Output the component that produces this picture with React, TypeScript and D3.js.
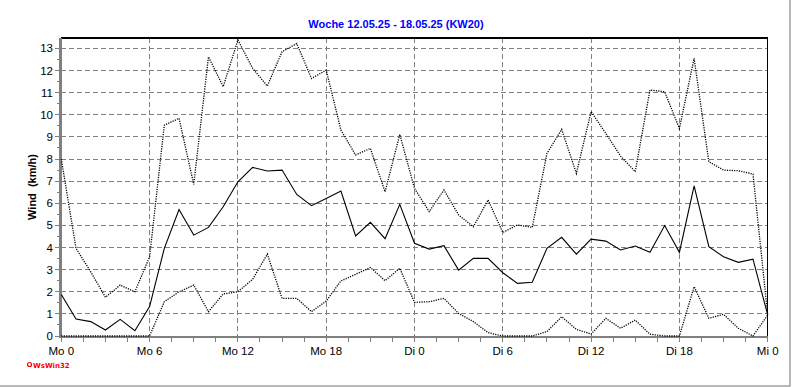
import React from 'react';
import * as d3 from 'd3';

// hourly wind values, Mo 0 .. Mi 0 (49 points)
const maxWind = [
  8.0, 3.96, 2.9, 1.75, 2.3, 2.0, 3.58, 9.53, 9.84, 6.85, 12.62, 11.27, 13.38,
  12.1, 11.3, 12.85, 13.22, 11.64, 12.02, 9.31, 8.18, 8.48, 6.52, 9.11, 6.67,
  5.62, 6.6, 5.47, 4.94, 6.15, 4.68, 5.02, 4.91, 8.25, 9.34, 7.35, 10.14,
  9.16, 8.13, 7.43, 11.12, 11.04, 9.38, 12.55, 7.88, 7.5, 7.47, 7.32, 0.95
];
const meanWind = [
  1.88, 0.77, 0.65, 0.27, 0.75, 0.24, 1.33, 3.96, 5.72, 4.56, 4.91, 5.84, 6.97,
  7.62, 7.46, 7.5, 6.4, 5.89, 6.22, 6.55, 4.52, 5.14, 4.4, 5.95, 4.19,
  3.93, 4.08, 2.98, 3.51, 3.51, 2.86, 2.38, 2.43, 3.96, 4.46, 3.7, 4.38,
  4.29, 3.89, 4.07, 3.78, 4.99, 3.78, 6.79, 4.04, 3.58, 3.33, 3.47, 0.95
];
const minWind = [
  0, 0, 0, 0, 0, 0, 0, 1.55, 2.0, 2.3, 1.1, 1.9, 2.0,
  2.56, 3.7, 1.7, 1.7, 1.1, 1.58, 2.49, 2.79, 3.1, 2.5, 3.06, 1.52,
  1.55, 1.7, 1.02, 0.65, 0.15, 0, 0, 0, 0.2, 0.87, 0.3, 0.09,
  0.8, 0.35, 0.72, 0.08, 0, 0, 2.23, 0.8, 0.98, 0.35, 0, 0.95
];
const xTickHours = [0, 6, 12, 18, 24, 30, 36, 42, 48];
const xTickLabels = ['Mo 0', 'Mo 6', 'Mo 12', 'Mo 18', 'Di 0', 'Di 6', 'Di 12', 'Di 18', 'Mi 0'];
const yTicks = [0, 1, 2, 3, 4, 5, 6, 7, 8, 9, 10, 11, 12, 13];

const title = 'Woche 12.05.25 - 18.05.25 (KW20)';
const yTitle = 'Wind\u00a0\u00a0(km/h)';

const W = 792, H = 387;
const left = 61.3, right = 767.7, top = 38, bottom = 336;
const font = '"Liberation Sans", Arial, sans-serif';

export default function App() {
  const x = d3.scaleLinear().domain([0, 48]).range([left, right]);
  const y = d3.scaleLinear().domain([0, 13.47]).range([bottom, top]);

  const line = d3.line<number>()
    .x((d, i) => x(i))
    .y(d => y(d));

  const minorX = d3.range(0, 48.01, 1.5);
  const minorY = d3.range(0, 13.01, 0.5);

  return (
    <svg width={W} height={H} style={{ position: 'absolute', left: 0, top: 0, background: '#fff' }}>
      <rect x={-1} y={-1} width={791} height={387} fill="#fff" stroke="#a0a0a0" strokeWidth={1.5} />

      <text x={396} y={28} textAnchor="middle" fontFamily={font} fontSize={11} fontWeight="bold" fill="#0000ff">
        {title}
      </text>

      {/* grid */}
      <g stroke="#808080" strokeWidth={1} strokeDasharray="5,3" shapeRendering="crispEdges">
        {yTicks.filter(t => t > 0).map(t => (
          <line key={'gy' + t} x1={left} x2={right} y1={y(t)} y2={y(t)} />
        ))}
        {xTickHours.filter(h => h > 0 && h < 48).map(h => (
          <line key={'gx' + h} x1={x(h)} x2={x(h)} y1={top} y2={bottom} />
        ))}
      </g>

      {/* frame top/right */}
      <g stroke="#000" strokeWidth={1.5} shapeRendering="crispEdges">
        <line x1={left} x2={right} y1={top} y2={top} />
        <line x1={right} x2={right} y1={top} y2={bottom} />
      </g>

      {/* axes */}
      <g stroke="#808080" shapeRendering="crispEdges">
        <line x1={left - 1} x2={left - 1} y1={top} y2={bottom + 2} strokeWidth={3} />
        <line x1={left - 2} x2={right} y1={bottom + 1} y2={bottom + 1} strokeWidth={2.5} />
        {minorY.map(t => (
          <line key={'my' + t} x1={Number.isInteger(t) ? left - 6 : left - 4} x2={left - 1} y1={y(t)} y2={y(t)} strokeWidth={1} />
        ))}
        {minorX.map(h => (
          <line key={'mx' + h} x1={x(h)} x2={x(h)} y1={bottom + 1} y2={bottom + 6} strokeWidth={1} />
        ))}
      </g>

      <g fontFamily={font} fontSize={11.5} fill="#000">
        {yTicks.map(t => (
          <text key={'ty' + t} x={53} y={y(t)} dy="0.35em" textAnchor="end">{t}</text>
        ))}
        {xTickHours.map((h, i) => (
          <text key={'tx' + h} x={x(h)} y={355} textAnchor="middle">{xTickLabels[i]}</text>
        ))}
      </g>

      <text transform={`translate(36,187) rotate(-90)`} textAnchor="middle" fontFamily={font} fontSize={11} fontWeight="bold">
        {yTitle}
      </text>

      {/* series */}
      <g fill="none" stroke="#000">
        <path d={line(maxWind) || ''} strokeDasharray="1.2,1.2" strokeWidth={1.3} />
        <path d={line(minWind) || ''} strokeDasharray="1.2,1.2" strokeWidth={1.3} />
        <path d={line(meanWind) || ''} strokeWidth={1.1} />
      </g>

      <g fill="#ff0000">
        <circle cx={29.5} cy={364.5} r={2} fill="none" stroke="#ff0000" strokeWidth={1.2} />
        <text x={33} y={367.5} fontFamily='"DejaVu Sans", Verdana, sans-serif' fontSize={7} fontWeight="bold">WsWin32</text>
      </g>
    </svg>
  );
}
